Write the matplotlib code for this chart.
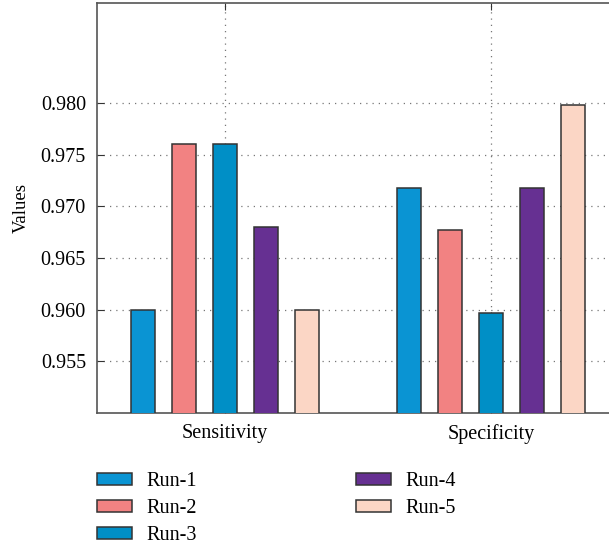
import numpy as np
import matplotlib
matplotlib.use("Agg")
import matplotlib.pyplot as plt

# data
categories = ["Sensitivity", "Specificity"]
runs = ["Run-1", "Run-2", "Run-3", "Run-4", "Run-5"]
run1 = [0.960, 0.9718]
run2 = [0.976, 0.9677]
run3 = [0.976, 0.9597]
run4 = [0.968, 0.9718]
run5 = [0.960, 0.9798]
yticks = [0.955, 0.960, 0.965, 0.970, 0.975, 0.980]

colors = ["#0a94d3", "#f28282", "#008fc6", "#663092", "#fbd6c5"]

plt.rcParams["font.family"] = ["Liberation Serif", "DejaVu Serif"]

fig = plt.figure(figsize=(6.09, 5.47), dpi=100)
ax = fig.add_axes([97 / 609, 134 / 547, 522 / 609, 410 / 547])

x = np.arange(1, len(categories) + 1)
step = 0.154
width = 0.092
series = [run1, run2, run3, run4, run5]
for i, (vals, name) in enumerate(zip(series, runs)):
    ax.bar(x + (i - 2) * step, vals, width, color=colors[i], edgecolor="#333333",
           linewidth=1.1, label=name, zorder=3)

ax.set_xlim(x[0] - 0.481, x[-1] + 0.481)
ax.set_ylim(0.950, 0.9897)
ax.set_xticks(x)
ax.set_xticklabels(categories)
ax.set_yticks(yticks)
ax.set_yticklabels([f"{v:.3f}" for v in yticks])
ax.set_ylabel("Values", fontsize=13.5, labelpad=8)
ax.tick_params(axis="both", direction="in", labelsize=14.5, length=5, color="#333333",
               top=True, pad=8)
ax.grid(True, linestyle=(0, (1, 4)), color="#777777", linewidth=0.9, zorder=0)
for side in ["left", "bottom", "top"]:
    ax.spines[side].set_color("#555555")
    ax.spines[side].set_linewidth(1.2)
ax.spines["right"].set_visible(False)

fig.legend(loc="upper left", bbox_to_anchor=(97 / 609, 1 - 472 / 547), ncol=2,
           frameon=False, fontsize=14.5, handlelength=1.75, handleheight=0.55,
           handletextpad=0.7, columnspacing=7.9, labelspacing=0.4,
           borderpad=0, borderaxespad=0)

fig.savefig("out.png", dpi=100)
